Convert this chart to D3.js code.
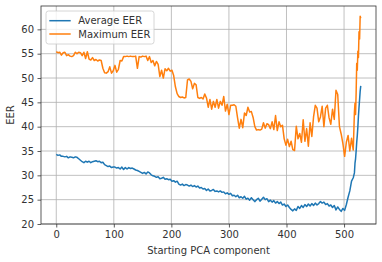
<!DOCTYPE html>
<html>
<head>
<meta charset="utf-8">
<script src="https://cdn.jsdelivr.net/npm/d3@7"></script>
<style>
  body { margin: 0; background: #fff; }
  text { font-family: "DejaVu Sans", sans-serif; }
</style>
</head>
<body>
<svg id="chart" width="382" height="262"></svg>
<script>
// starting PCA component (x positions of the readings)
const components = d3.range(0, 517, 3).concat([518,519,520,521,522,523,524,525,526,527,528,529]);

const averageEER = [
  34.3,34.1,34.2,33.9,33.9,33.8,33.9,33.6,33.8,33.7,
  33.6,33.8,33.7,33.4,33.1,32.8,32.6,32.9,32.7,32.9,
  32.6,32.8,32.9,33.0,32.8,32.9,32.6,32.7,32.2,32.0,
  31.8,31.9,31.6,31.7,31.7,31.5,31.6,31.3,31.7,31.2,
  31.6,31.3,31.6,31.4,31.5,31.3,31.1,31.0,30.8,30.6,
  30.4,30.6,30.3,30.7,30.5,30.1,29.9,29.8,29.6,29.7,
  29.3,29.4,29.6,29.2,29.3,29.1,29.2,28.8,28.9,28.6,
  28.8,28.2,28.0,28.2,27.9,28.1,28.0,27.8,28.0,27.7,
  27.9,27.6,27.8,27.4,27.5,27.2,27.3,26.9,27.2,26.8,
  26.9,27.1,26.7,26.8,26.6,26.8,26.5,26.6,26.2,26.4,
  26.1,26.3,25.8,25.9,25.6,25.9,25.4,25.6,25.3,25.7,
  25.1,25.3,24.9,25.4,25.0,24.6,25.0,25.3,24.7,25.1,
  25.5,25.0,25.2,24.6,24.9,24.5,24.8,24.3,24.6,24.2,
  24.5,23.9,24.1,23.6,23.9,23.4,23.0,22.7,23.1,22.8,
  23.6,23.2,23.8,23.4,24.0,23.6,24.1,23.7,24.2,23.8,
  24.3,23.9,24.2,24.6,24.3,24.5,24.0,24.2,23.7,23.9,
  23.4,23.8,22.9,23.5,23.0,22.6,23.2,22.8,24.0,25.5,
  26.8,28.8,29.5,
  30.5,32.5,33.4,35.0,36.8,38.2,40.0,42.2,44.0,45.6,47.3,48.4];

const maximumEER = [
  55.4,55.2,55.3,54.7,55.2,55.3,54.6,54.8,54.5,54.4,
  54.6,55.3,55.0,55.3,55.2,54.6,55.3,54.0,55.4,53.9,
  53.7,54.2,53.6,53.8,53.5,53.7,53.6,52.0,51.1,51.0,
  51.3,52.3,51.0,51.5,52.6,51.2,51.8,53.6,53.5,54.4,
  54.4,54.5,54.4,54.5,54.4,54.4,54.5,52.0,54.4,54.3,
  54.5,54.4,54.5,53.6,54.4,53.2,53.6,52.5,53.4,52.8,
  50.3,51.6,50.0,51.9,51.5,52.0,51.4,51.6,50.5,48.2,
  46.8,46.2,46.0,46.1,45.9,46.0,49.6,49.8,49.3,47.8,
  48.9,48.6,46.0,45.8,46.0,45.7,46.7,45.9,44.0,45.6,
  43.6,45.2,44.0,45.6,43.8,45.2,44.4,46.2,43.2,44.6,
  42.5,44.4,44.4,44.5,44.2,41.8,39.7,41.5,39.8,42.8,
  42.3,44.0,43.0,43.1,41.9,40.0,39.3,39.4,39.3,39.5,
  40.8,39.7,40.6,40.4,39.6,41.0,39.4,42.3,39.2,41.0,
  40.0,40.3,37.5,36.2,37.4,35.9,37.0,35.3,35.1,40.1,
  37.5,38.6,36.8,41.4,37.0,39.6,36.0,40.8,38.0,42.0,
  44.4,43.8,41.0,42.0,44.2,40.0,43.8,44.4,41.8,40.5,
  43.6,41.5,47.5,46.6,40.0,38.5,36.5,33.9,36.8,38.2,
  35.0,37.6,35.2,
  43.0,44.8,42.5,47.0,53.0,51.6,55.5,54.2,59.5,58.0,62.7,62.3];

const xTicks = [0, 100, 200, 300, 400, 500];
const yTicks = [20, 25, 30, 35, 40, 45, 50, 55, 60];

const svg = d3.select("#chart");
const margin = {left: 41, top: 6, right: 6, bottom: 38};
const width = 382 - margin.left - margin.right;
const height = 262 - margin.top - margin.bottom;

const x = d3.scaleLinear().domain([-26.5, 555.5]).range([0, width]);
const y = d3.scaleLinear().domain([20, 64.8]).range([height, 0]);

const g = svg.append("g").attr("transform", "translate(" + margin.left + "," + margin.top + ")");

// grid lines
g.append("g")
  .selectAll("line")
  .data(xTicks)
  .enter().append("line")
  .attr("x1", d => x(d)).attr("x2", d => x(d))
  .attr("y1", 0).attr("y2", height)
  .attr("stroke", "#b0b0b0").attr("stroke-width", 0.8);
g.append("g")
  .selectAll("line")
  .data(yTicks)
  .enter().append("line")
  .attr("x1", 0).attr("x2", width)
  .attr("y1", d => y(d)).attr("y2", d => y(d))
  .attr("stroke", "#b0b0b0").attr("stroke-width", 0.8);

// axes
const xAxis = g.append("g")
  .attr("transform", "translate(0," + height + ")")
  .call(d3.axisBottom(x).tickValues(xTicks).tickSize(3.5).tickPadding(3.5).tickSizeOuter(0));
const yAxis = g.append("g")
  .call(d3.axisLeft(y).tickValues(yTicks).tickSize(3.5).tickPadding(3.5).tickSizeOuter(0));
[xAxis, yAxis].forEach(a => {
  a.select(".domain").remove();
  a.selectAll("line").attr("stroke", "#333").attr("stroke-width", 0.8);
  a.selectAll("text").attr("fill", "#333").style("font-size", "10px").style("font-family", "DejaVu Sans, sans-serif");
});

// lines
const line = d3.line().x((d, i) => x(components[i])).y(d => y(d));
g.append("path")
  .datum(averageEER)
  .attr("d", line)
  .attr("fill", "none")
  .attr("stroke", "#1f77b4")
  .attr("stroke-width", 1.5)
  .attr("stroke-linejoin", "round");
g.append("path")
  .datum(maximumEER)
  .attr("d", line)
  .attr("fill", "none")
  .attr("stroke", "#ff7f0e")
  .attr("stroke-width", 1.5)
  .attr("stroke-linejoin", "round");

// frame
g.append("rect")
  .attr("x", 0).attr("y", 0)
  .attr("width", width).attr("height", height)
  .attr("fill", "none")
  .attr("stroke", "#333")
  .attr("stroke-width", 0.8);

// axis labels
g.append("text")
  .attr("x", width / 2).attr("y", height + 30)
  .attr("text-anchor", "middle")
  .attr("fill", "#333")
  .style("font-size", "10px")
  .text("Starting PCA component");
g.append("text")
  .attr("transform", "translate(" + (-27) + "," + (height / 2) + ") rotate(-90)")
  .attr("text-anchor", "middle")
  .attr("fill", "#333")
  .style("font-size", "10px")
  .text("EER");

// legend
const legend = g.append("g").attr("transform", "translate(5,5)");
legend.append("rect")
  .attr("width", 108).attr("height", 33)
  .attr("rx", 2.5)
  .attr("fill", "#fff").attr("fill-opacity", 0.8)
  .attr("stroke", "#ccc").attr("stroke-width", 0.8);
const items = [["Average EER", "#1f77b4"], ["Maximum EER", "#ff7f0e"]];
items.forEach((it, i) => {
  const yy = 9.7 + i * 13.3;
  legend.append("line")
    .attr("x1", 3.3).attr("x2", 24.7)
    .attr("y1", yy).attr("y2", yy)
    .attr("stroke", it[1]).attr("stroke-width", 1.5);
  legend.append("text")
    .attr("x", 32.3).attr("y", yy + 3.6)
    .attr("fill", "#333")
    .style("font-size", "10px")
    .text(it[0]);
});
</script>
</body>
</html>
